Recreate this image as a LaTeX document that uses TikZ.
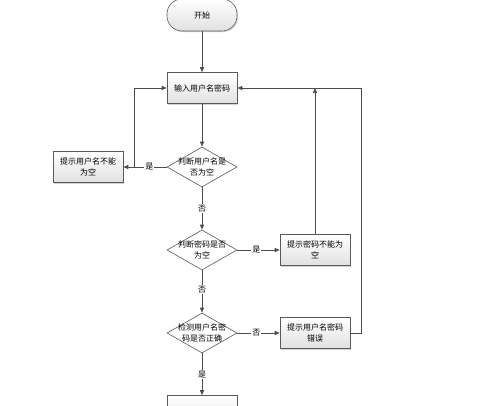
\documentclass[tikz,border=0pt]{standalone}
\usepackage{fontspec}
\newfontfamily\cjk{Noto Sans CJK SC}
\usetikzlibrary{shapes.geometric,arrows.meta,shadows}
\begin{document}
\begin{tikzpicture}[x=1pt,y=-1pt,
  font=\cjk\fontsize{8}{10.5}\selectfont,
  ln/.style={draw=black!70, line width=0.7pt},
  arr/.style={ln, -{Triangle[length=5pt,width=4pt]}},
  boxnode/.style={draw=black!65, line width=0.6pt, top color=white, bottom color=black!12,
    minimum width=70pt, minimum height=31pt, inner sep=1pt, align=center,
    drop shadow={shadow xshift=1pt, shadow yshift=-1pt, fill=black!35}},
  termnode/.style={boxnode, rounded corners=15pt},
  decnode/.style={diamond, draw=black!65, line width=0.6pt, fill=white,
    minimum width=70pt, minimum height=40pt, inner sep=0pt},
  lbl/.style={fill=white, inner sep=1pt}
]
\useasboundingbox (0,0) rectangle (500,405);
\node[termnode, minimum height=32pt] (start) at (202,15) {开始};
\node[boxnode] (input) at (202,88) {输入用户名密码};
\node[decnode, label={[align=center]center:判断用户名是\\否为空}] (d1) at (202,167) {};
\node[boxnode] (e1) at (88,167) {提示用户名不能\\为空};
\node[decnode, label={[align=center]center:判断密码是否\\为空}] (d2) at (202,250) {};
\node[boxnode] (e2) at (315,250) {提示密码不能为\\空};
\node[decnode, label={[align=center]center:检测用户名密\\码是否正确}] (d3) at (202,333) {};
\node[boxnode] (e3) at (315,333) {提示用户名密码\\错误};
\node[boxnode] (final) at (202,411) {};

\coordinate (j1) at (134,167);
\coordinate (j2) at (315,88);
\coordinate (r1) at (361,333);
\coordinate (r2) at (361,88);

\draw[arr] (start) -- (input);
\draw[arr] (input) -- (d1);
\draw[arr] (d1.west) -- node[lbl, pos=0.4]{是} (e1.east);
\draw[arr] (j1) |- (input.west);
\draw[arr] (d1.south) -- node[lbl, pos=0.5]{否} (d2.north);
\draw[arr] (d2.east) -- node[lbl, pos=0.45]{是} (e2.west);
\draw[arr] (e2.north) -- (j2);
\draw[arr] (d2.south) -- node[lbl, pos=0.45]{否} (d3.north);
\draw[arr] (d3.east) -- node[lbl, pos=0.45]{否} (e3.west);
\draw[arr] (e3.east) -- (r1) -- (r2) -- (input.east);
\draw[arr] (d3.south) -- node[lbl, pos=0.5]{是} (final.north);
\end{tikzpicture}
\end{document}
